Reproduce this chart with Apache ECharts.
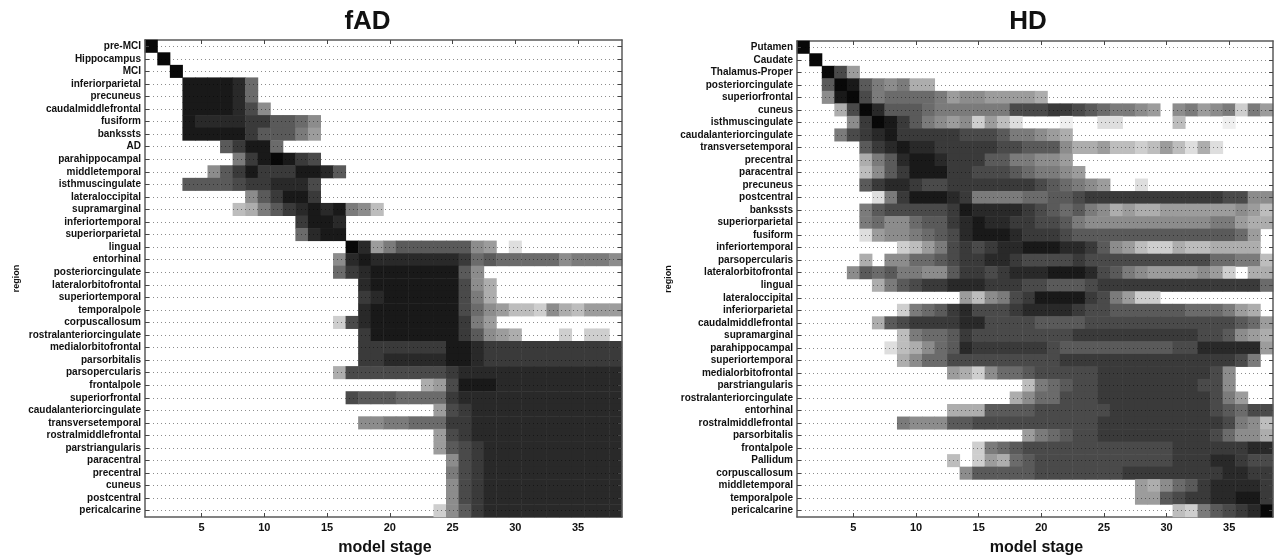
<!DOCTYPE html>
<html><head><meta charset="utf-8">
<style>html,body{margin:0;padding:0;background:#fff}#c{width:1274px;height:559px;filter:blur(0.35px)}</style>
<script src="https://cdn.jsdelivr.net/npm/echarts@6/dist/echarts.min.js"></script>
</head><body><div id="c"></div>
<script>
const stages = Array.from({length:38},(_,i)=>String(i+1));
const fadRegions = ["pre-MCI","Hippocampus","MCI","inferiorparietal","precuneus","caudalmiddlefrontal","fusiform","bankssts","AD","parahippocampal","middletemporal","isthmuscingulate","lateraloccipital","supramarginal","inferiortemporal","superiorparietal","lingual","entorhinal","posteriorcingulate","lateralorbitofrontal","superiortemporal","temporalpole","corpuscallosum","rostralanteriorcingulate","medialorbitofrontal","parsorbitalis","parsopercularis","frontalpole","superiorfrontal","caudalanteriorcingulate","transversetemporal","rostralmiddlefrontal","parstriangularis","paracentral","precentral","cuneus","postcentral","pericalcarine"];
const hdRegions = ["Putamen","Caudate","Thalamus-Proper","posteriorcingulate","superiorfrontal","cuneus","isthmuscingulate","caudalanteriorcingulate","transversetemporal","precentral","paracentral","precuneus","postcentral","bankssts","superiorparietal","fusiform","inferiortemporal","parsopercularis","lateralorbitofrontal","lingual","lateraloccipital","inferiorparietal","caudalmiddlefrontal","supramarginal","parahippocampal","superiortemporal","medialorbitofrontal","parstriangularis","rostralanteriorcingulate","entorhinal","rostralmiddlefrontal","parsorbitalis","frontalpole","Pallidum","corpuscallosum","middletemporal","temporalpole","pericalcarine"];
// Each row: first stage column with a value, then one hex digit per stage (0 = never, f = always).
const fadRows = [
[1,"f"],[2,"f"],[3,"f"],
[4,"eeeed9"],[4,"eeeed9"],[4,"eeeedb7"],
[4,"eddddccaa97"],[4,"eeeeecaaa86"],[7,"acee9"],
[8,"8cefecb"],[6,"7aceccceeda"],[4,"aaaabccdddb"],
[9,"7aceec"],[8,"458acdede874"],[13,"ceed"],[13,"9dee"],
[17,"fd68aaaaaa7602"],
[16,"7dedddddddc9a9999978887"],
[16,"9cdeeeeeeea7"],
[18,"deeeeeeeb75"],
[18,"cdeeeeeeb85"],
[18,"deeeeeeeb976443754666"],
[16,"3bdeeeeeeec86"],
[18,"ceeeeeeeca7650003033"],
[18,"ccccccceedccccccccccc"],
[18,"ccdddddeedccccccccccc"],
[16,"5bbbbbbbbcddddddddddddd"],
[23,"56beeedddddddddd"],
[17,"baaa9999cddddddddddddd"],
[24,"6bcdddddddddddd"],
[18,"7788999ccdddddddddddd"],
[24,"6bcdddddddddddd"],
[24,"6abcddddddddddd"],
[25,"7bcddddddddddd"],
[25,"8bcddddddddddd"],
[25,"7bcddddddddddd"],
[25,"7bcddddddddddd"],
[24,"37acddddddddddd"]
];
const hdRows = [
[1,"f"],[2,"f"],[3,"fb6"],
[3,"afea87855"],
[3,"7efb89999867766665"],
[4,"5bfdaaa9888888bbbccba988760"+"78678386"],
[5,"7cfeca87673642000100220000400"+"01"],
[4,"8bcdecccccbbba88765"],
[6,"acdeddcccccbbaaa7556443464252"],
[6,"58adeedcccaa88776"],
[6,"47aceeeccbbba98876"],
[6,"acddcbbcccccccba9876002"],
[7,"28ceeedc888899aabcccccccccccbb772"],
[6,"8abbbbbcedddd"+"cba9a875"+"655"+"666666"+"764"],
[6,"89779aacdeddccbba87"+"777777777"+"88655"],
[6,"267789abdeeedcccb"+"aaaaaaaaaaaaa"+"96"],
[9,"3468bcbcddeeeddca764335445555"],
[6,"507799abccddcbbbbc"+"bbbbbbbbbb"+"99884"],
[5,"7a9a8877accbcdddeeedba87666676"+"3055"],
[7,"58abccdddcccbbaaab"+"ccccccccccccc"+"9"],
[14,"6478bceeeecb8633"],
[9,"389acdbbbcddddcbb"+"aaaaaa"+"999"+"865"],
[7,"5abccccddbbbbaaaa"+"bbbbbbbbbbbb"+"a96"],
[9,"4899acbbbbbbbb"+"cccccccccc"+"bba765"],
[8,"24579adccccccb"+"aaaaaaaaa"+"bb"+"ddddd"+"6"],
[9,"5799bbbbbbbbb"+"cccccccccccccc"+"b8"],
[13,"653799abbbbb"+"ccccccccc"+"b7"],
[19,"489abb"+"cccccccc"+"bb7"],
[18,"5799bbb"+"ccccccccc"+"b86"],
[13,"555aaaabbbb"+"bbcccccccc"+"ba9bb"],
[9,"8777aa"+"bbbbbbbbbb"+"cccccccccc"+"b874"],
[19,"689abb"+"ccccccccc"+"b9775"],
[15,"389abb"+"bbbbbbbbbb"+"cccccc"+"dd"],
[13,"403659a"+"bbbbbbbbbbb"+"ccc"+"ddcbb"],
[14,"7aaaaa"+"bbbbbbb"+"cccccccc"+"ddcc"],
[28,"6579acddddc"],
[28,"66abccddeec"],
[31,"438abcdf"]
];
const tickEvery = i => (i+1)%5===0;
const toCells = rows => {
  const out=[];
  rows.forEach(([start,s],r)=>{ [...s].forEach((ch,k)=>{
    const v=parseInt(ch,16), c=start-1+k;
    if(v>0 && c<38) out.push([c,r,v]);
  });});
  return out;
};
const frame = {show:true,lineStyle:{color:'#5a5a5a',width:1.5}};
const nameFont = {fontFamily:'Liberation Sans',fontWeight:'bold',color:'#111'};
function panel(gi,regions){
  const base=gi*2;
  return {
    x:[
      {gridIndex:gi,type:'category',data:stages,position:'bottom',boundaryGap:true,axisLine:{...frame,onZero:false},
       axisTick:{show:true,inside:true,length:4,alignWithLabel:true,interval:tickEvery,lineStyle:{color:'#444'}},
       axisLabel:{interval:tickEvery,margin:5,fontSize:11,fontFamily:'Liberation Sans',fontWeight:'bold',color:'#111'},
       splitLine:{show:false},name:'model stage',nameLocation:'middle',nameGap:23,nameTextStyle:{...nameFont,fontSize:16,padding:[0,0,0,3]}},
      {gridIndex:gi,type:'category',data:stages,position:'top',boundaryGap:true,axisLine:{...frame,onZero:false},
       axisTick:{show:true,inside:true,length:4,alignWithLabel:true,interval:tickEvery,lineStyle:{color:'#444'}},
       axisLabel:{show:false},splitLine:{show:false}}
    ],
    y:[
      {gridIndex:gi,type:'category',data:regions,inverse:true,position:'left',boundaryGap:true,z:5,axisLine:{...frame,onZero:false},
       axisTick:{show:true,inside:true,length:4,alignWithLabel:true,interval:0,lineStyle:{color:'#444'}},
       axisLabel:{interval:0,margin:4,fontSize:10,fontFamily:'Liberation Sans',fontWeight:'bold',color:'#111'},
       splitLine:{show:true,alignWithLabel:true,interval:0,lineStyle:{type:[1,3],color:'rgba(0,0,0,0.45)',width:1}},
       name:'region',nameLocation:'middle',nameGap:124,nameRotate:90,nameTextStyle:{...nameFont,fontSize:9}},
      {gridIndex:gi,type:'category',data:regions,inverse:true,position:'right',boundaryGap:true,z:5,axisLine:{...frame,onZero:false},
       axisTick:{show:true,inside:true,length:4,alignWithLabel:true,interval:0,lineStyle:{color:'#444'}},
       axisLabel:{show:false},splitLine:{show:false}}
    ],
    series:{type:'heatmap',xAxisIndex:base,yAxisIndex:base,data:null,itemStyle:{borderWidth:0},emphasis:{disabled:true},progressive:0,animation:false}
  };
}
const p0=panel(0,fadRegions), p1=panel(1,hdRegions);
p0.series.data=toCells(fadRows); p1.series.data=toCells(hdRows);
const chart=echarts.init(document.getElementById('c'),null,{renderer:'canvas'});
chart.setOption({
  animation:false,
  backgroundColor:'#fff',
  title:[
    {text:'fAD',left:362.5,top:4,textAlign:'center',textStyle:{fontFamily:'Liberation Sans',fontWeight:'bold',fontSize:26,color:'#111'}},
    {text:'HD',left:1023,top:4,textAlign:'center',textStyle:{fontFamily:'Liberation Sans',fontWeight:'bold',fontSize:26,color:'#111'}}
  ],
  grid:[{left:145,top:40,width:477,height:477,outerBoundsMode:'none',containLabel:false},{left:797,top:41,width:476,height:476,outerBoundsMode:'none',containLabel:false}],
  xAxis:[...p0.x,...p1.x],
  yAxis:[...p0.y,...p1.y],
  visualMap:{show:false,min:0,max:15.5,seriesIndex:[0,1],inRange:{color:['#ffffff','#000000']}},
  tooltip:{show:false},
  series:[p0.series,p1.series]
});
</script></body></html>
